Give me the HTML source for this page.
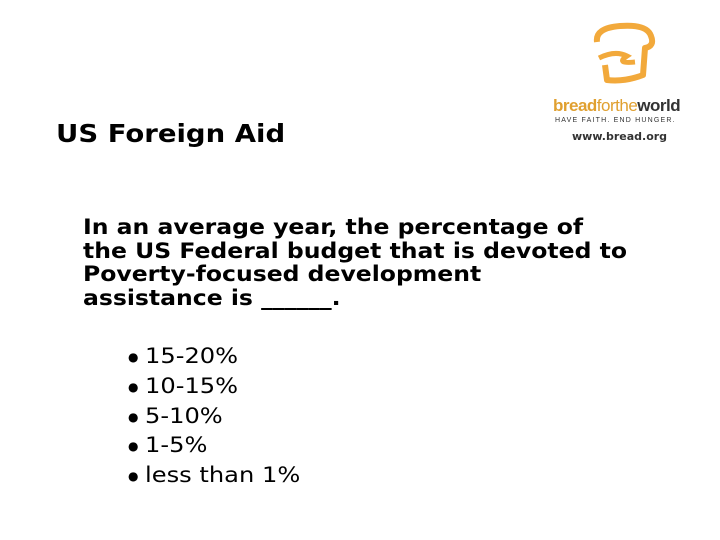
<!DOCTYPE html>
<html><head><meta charset="utf-8"><style>
body{margin:0;width:720px;height:540px;background:#fff;position:relative;overflow:hidden;font-family:"DejaVu Sans","Liberation Sans",sans-serif;color:#000}
.abs{position:absolute;white-space:nowrap;transform-origin:0 0}
</style></head><body>
<div class="abs" style="left:56px;top:119px;font-size:25px;font-weight:bold;transform:scaleX(1.1)">US Foreign Aid</div>
<svg class="abs" style="left:585px;top:20px" width="80" height="70" viewBox="0 0 80 70">
<path d="M12 22 Q10 8 35 6 Q62 4 66 16 Q70 26 60 28 L58 55 Q40 62 22 60 L20 45" fill="none" stroke="#f2a93b" stroke-width="6" stroke-linejoin="round"/>
<path d="M14 38 Q30 30 42 36 Q30 44 50 42" fill="none" stroke="#f2a93b" stroke-width="5"/>
</svg>
<div class="abs" style="left:553px;top:96px;font-size:17px;font-weight:bold;letter-spacing:-0.5px;font-family:'Liberation Sans',sans-serif"><span style="color:#e0a030">bread</span><span style="color:#e0a030;font-weight:normal">forthe</span><span style="color:#333">world</span></div>
<div class="abs" style="left:555px;top:117px;font-size:7px;letter-spacing:1.2px;color:#333;font-family:'Liberation Sans',sans-serif">HAVE FAITH. END HUNGER.</div>
<div class="abs" style="left:572px;top:130px;font-size:11px;font-weight:bold;color:#333">www.bread.org</div>
<div class="abs" style="left:83px;top:216px;font-size:21px;font-weight:bold;line-height:23.5px;transform:scaleX(1.12)">In an average year, the percentage of<br>the US Federal budget that is devoted to<br>Poverty-focused development<br>assistance is ______.</div>
<div class="abs" style="left:128px;top:342px;font-size:21px;line-height:28.8px;">
<div><span style="font-size:12px;vertical-align:2px">●</span> <span style="display:inline-block;transform:scaleX(1.15);transform-origin:0 0">15-20%</span></div>
<div><span style="font-size:12px;vertical-align:2px">●</span> <span style="display:inline-block;transform:scaleX(1.15);transform-origin:0 0">10-15%</span></div>
<div><span style="font-size:12px;vertical-align:2px">●</span> <span style="display:inline-block;transform:scaleX(1.15);transform-origin:0 0">5-10%</span></div>
<div><span style="font-size:12px;vertical-align:2px">●</span> <span style="display:inline-block;transform:scaleX(1.15);transform-origin:0 0">1-5%</span></div>
<div><span style="font-size:12px;vertical-align:2px">●</span> <span style="display:inline-block;transform:scaleX(1.15);transform-origin:0 0">less than 1%</span></div>
</div>
</body></html>
